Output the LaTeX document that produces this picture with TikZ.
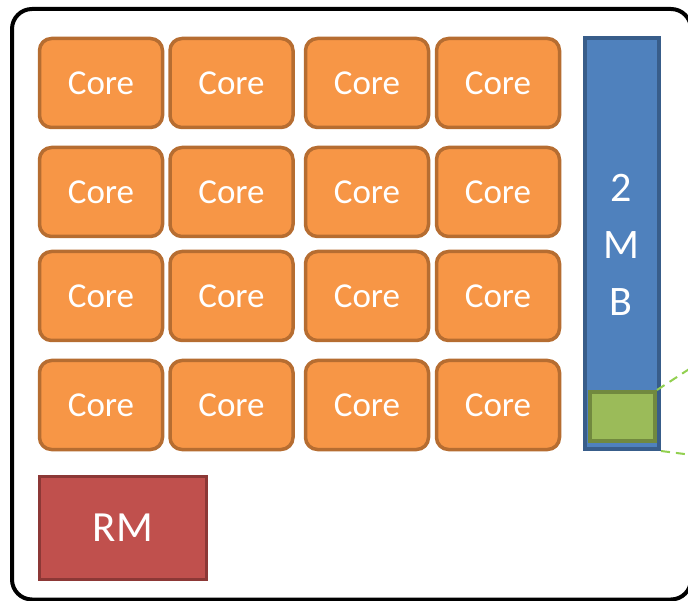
\documentclass[tikz,border=0pt]{standalone}
\usepackage{fontspec}
\setmainfont{Carlito}
\definecolor{coreFill}{HTML}{F79646}
\definecolor{coreLine}{HTML}{B66D31}
\definecolor{memFill}{HTML}{4F81BD}
\definecolor{memLine}{HTML}{385D8A}
\definecolor{rmFill}{HTML}{C0504D}
\definecolor{rmLine}{HTML}{8C3836}
\definecolor{grFill}{HTML}{9BBB59}
\definecolor{grLine}{HTML}{71893F}
\definecolor{dashGreen}{HTML}{92D050}
\begin{document}
\begin{tikzpicture}[x=1pt,y=-1pt,
  corebox/.style={draw=coreLine, fill=coreFill, line width=3.5pt, rounded corners=12pt,
    minimum width=123pt, minimum height=89pt, inner sep=0pt, text=white,
    font=\fontsize{35}{42}\selectfont},
  membox/.style={draw=memLine, fill=memFill, line width=4pt,
    minimum width=74pt, minimum height=411pt, inner sep=0pt},
  rmbox/.style={draw=rmLine, fill=rmFill, line width=3.5pt,
    minimum width=167pt, minimum height=103pt, inner sep=0pt, text=white,
    font=\fontsize{43}{50}\selectfont},
  grbox/.style={draw=grLine, fill=grFill, line width=4pt,
    minimum width=65pt, minimum height=49pt, inner sep=0pt},
  frame/.style={draw=black, line width=4pt, rounded corners=20pt},
  link/.style={draw=dashGreen, line width=2pt, dash pattern=on 9pt off 6pt}
]
\useasboundingbox (0,0) rectangle (688,601);
\begin{scope}
\clip (0,0) rectangle (688,601);
\draw[frame] (12,9) rectangle (691,599.5);
\end{scope}
% cores
\foreach \c/\x in {1/101,2/231.5,3/367,4/498}{
  \foreach \r/\y in {1/83,2/192,3/296,4/405}{
    \node[corebox] (core\r\c) at (\x,\y) {Core};
  }
}
\node[membox] (mem) at (622,243.5) {};
\node[text=white, font=\fontsize{42}{57}\selectfont, align=center] (memlabel) at (621,245) {2\\M\\B};
\node[grbox] (blk) at (622.5,416.5) {};
\node[rmbox] (rm) at (123,528) {RM};
\coordinate (endA) at (700,362);
\coordinate (endB) at (700,456);
\begin{scope}
\clip (0,0) rectangle (688,601);
\draw[link] (blk.north east) -- (endA);
\draw[link] (mem.south east) -- (endB);
\end{scope}
\end{tikzpicture}
\end{document}
